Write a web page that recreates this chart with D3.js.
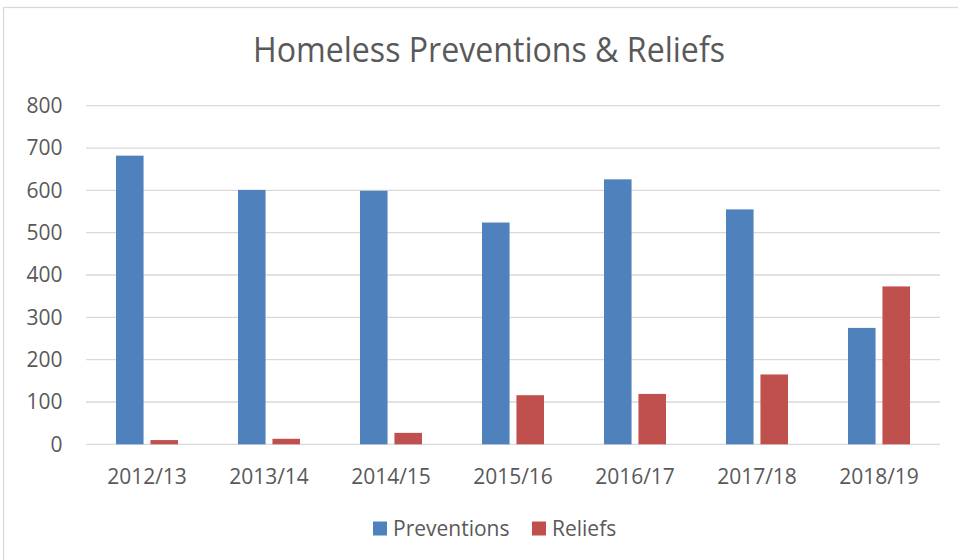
<!DOCTYPE html>
<html>
  <head>
    <meta charset="utf-8" />
    <script src="https://d3js.org/d3.v7.min.js"></script>
    <style>
      body { margin: 0; background: #fff; }
      text { font-family: "Open Sans", sans-serif; fill: #595959; }
      .grid line { stroke: #d9d9d9; stroke-width: 1.3px; }
    </style>
  </head>
  <body>
    <svg id="chart" width="958" height="560"></svg>
  <script>

  var years = ["2012/13", "2013/14", "2014/15", "2015/16", "2016/17", "2017/18", "2018/19"];
  var seriesNames = ["Preventions", "Reliefs"];
  var preventions = [682, 601, 599, 524, 626, 555, 275];
  var reliefs = [10, 13, 27, 116, 119, 165, 373];
  var yTicks = [0, 100, 200, 300, 400, 500, 600, 700, 800];

  var colors = { "Preventions": "#4f81bd", "Reliefs": "#c0504d" };

  var svg = d3.select("#chart");

  // outer chart border (only left/top visible in the picture)
  svg.append("rect")
    .attr("x", 3.5).attr("y", 7.5)
    .attr("width", 1000).attr("height", 1000)
    .attr("fill", "none")
    .attr("stroke", "#d9d9d9")
    .attr("stroke-width", 1.3);

  var plotLeft = 86, plotRight = 940, plotTop = 105.7, plotBottom = 444.3;

  var x0 = d3.scaleBand().domain(years).range([plotLeft, plotRight]);
  var x1 = d3.scaleBand().domain(seriesNames).range([30, 92]).paddingInner(0.2);
  var y = d3.scaleLinear().domain([0, 800]).range([plotBottom, plotTop]);

  // gridlines
  svg.append("g")
    .attr("class", "grid")
    .selectAll("line")
    .data(yTicks)
    .enter().append("line")
    .attr("x1", plotLeft).attr("x2", plotRight)
    .attr("y1", function(d) { return y(d); })
    .attr("y2", function(d) { return y(d); });

  // y labels
  svg.append("g")
    .selectAll("text")
    .data(yTicks)
    .enter().append("text")
    .attr("x", 62.5)
    .attr("y", function(d) { return y(d); })
    .attr("dy", "0.35em")
    .attr("text-anchor", "end")
    .attr("font-size", 21)
    .text(function(d) { return d; });

  // bars
  var rows = years.map(function(yr, i) {
    return { year: yr, values: [
      { key: "Preventions", value: preventions[i] },
      { key: "Reliefs", value: reliefs[i] }
    ] };
  });

  var groups = svg.append("g")
    .selectAll("g")
    .data(rows)
    .enter().append("g")
    .attr("transform", function(d) { return "translate(" + x0(d.year) + ",0)"; });

  groups.selectAll("rect")
    .data(function(d) { return d.values; })
    .enter().append("rect")
    .attr("x", function(d) { return x1(d.key); })
    .attr("width", x1.bandwidth())
    .attr("y", function(d) { return y(d.value); })
    .attr("height", function(d) { return y(0) - y(d.value); })
    .attr("fill", function(d) { return colors[d.key]; });

  // x labels
  svg.append("g")
    .selectAll("text")
    .data(years)
    .enter().append("text")
    .attr("x", function(d) { return x0(d) + x0.bandwidth() / 2; })
    .attr("y", 484)
    .attr("text-anchor", "middle")
    .attr("font-size", 21)
    .text(function(d) { return d; });

  // title
  svg.append("text")
    .attr("x", 253)
    .attr("y", 62.3)
    .attr("font-size", 34)
    .attr("textLength", 472)
    .attr("lengthAdjust", "spacingAndGlyphs")
    .text("Homeless Preventions & Reliefs");

  // legend
  var legendPos = [373, 532];
  var legend = svg.append("g")
    .selectAll("g")
    .data(seriesNames)
    .enter().append("g")
    .attr("transform", function(d, i) { return "translate(" + legendPos[i] + ",0)"; });

  legend.append("rect")
    .attr("x", 0).attr("y", 521.5)
    .attr("width", 14).attr("height", 14)
    .attr("fill", function(d) { return colors[d]; });

  legend.append("text")
    .attr("x", 20)
    .attr("y", 528.5)
    .attr("dy", "0.35em")
    .attr("font-size", 21)
    .text(function(d) { return d; });

  </script>
  </body>
</html>
